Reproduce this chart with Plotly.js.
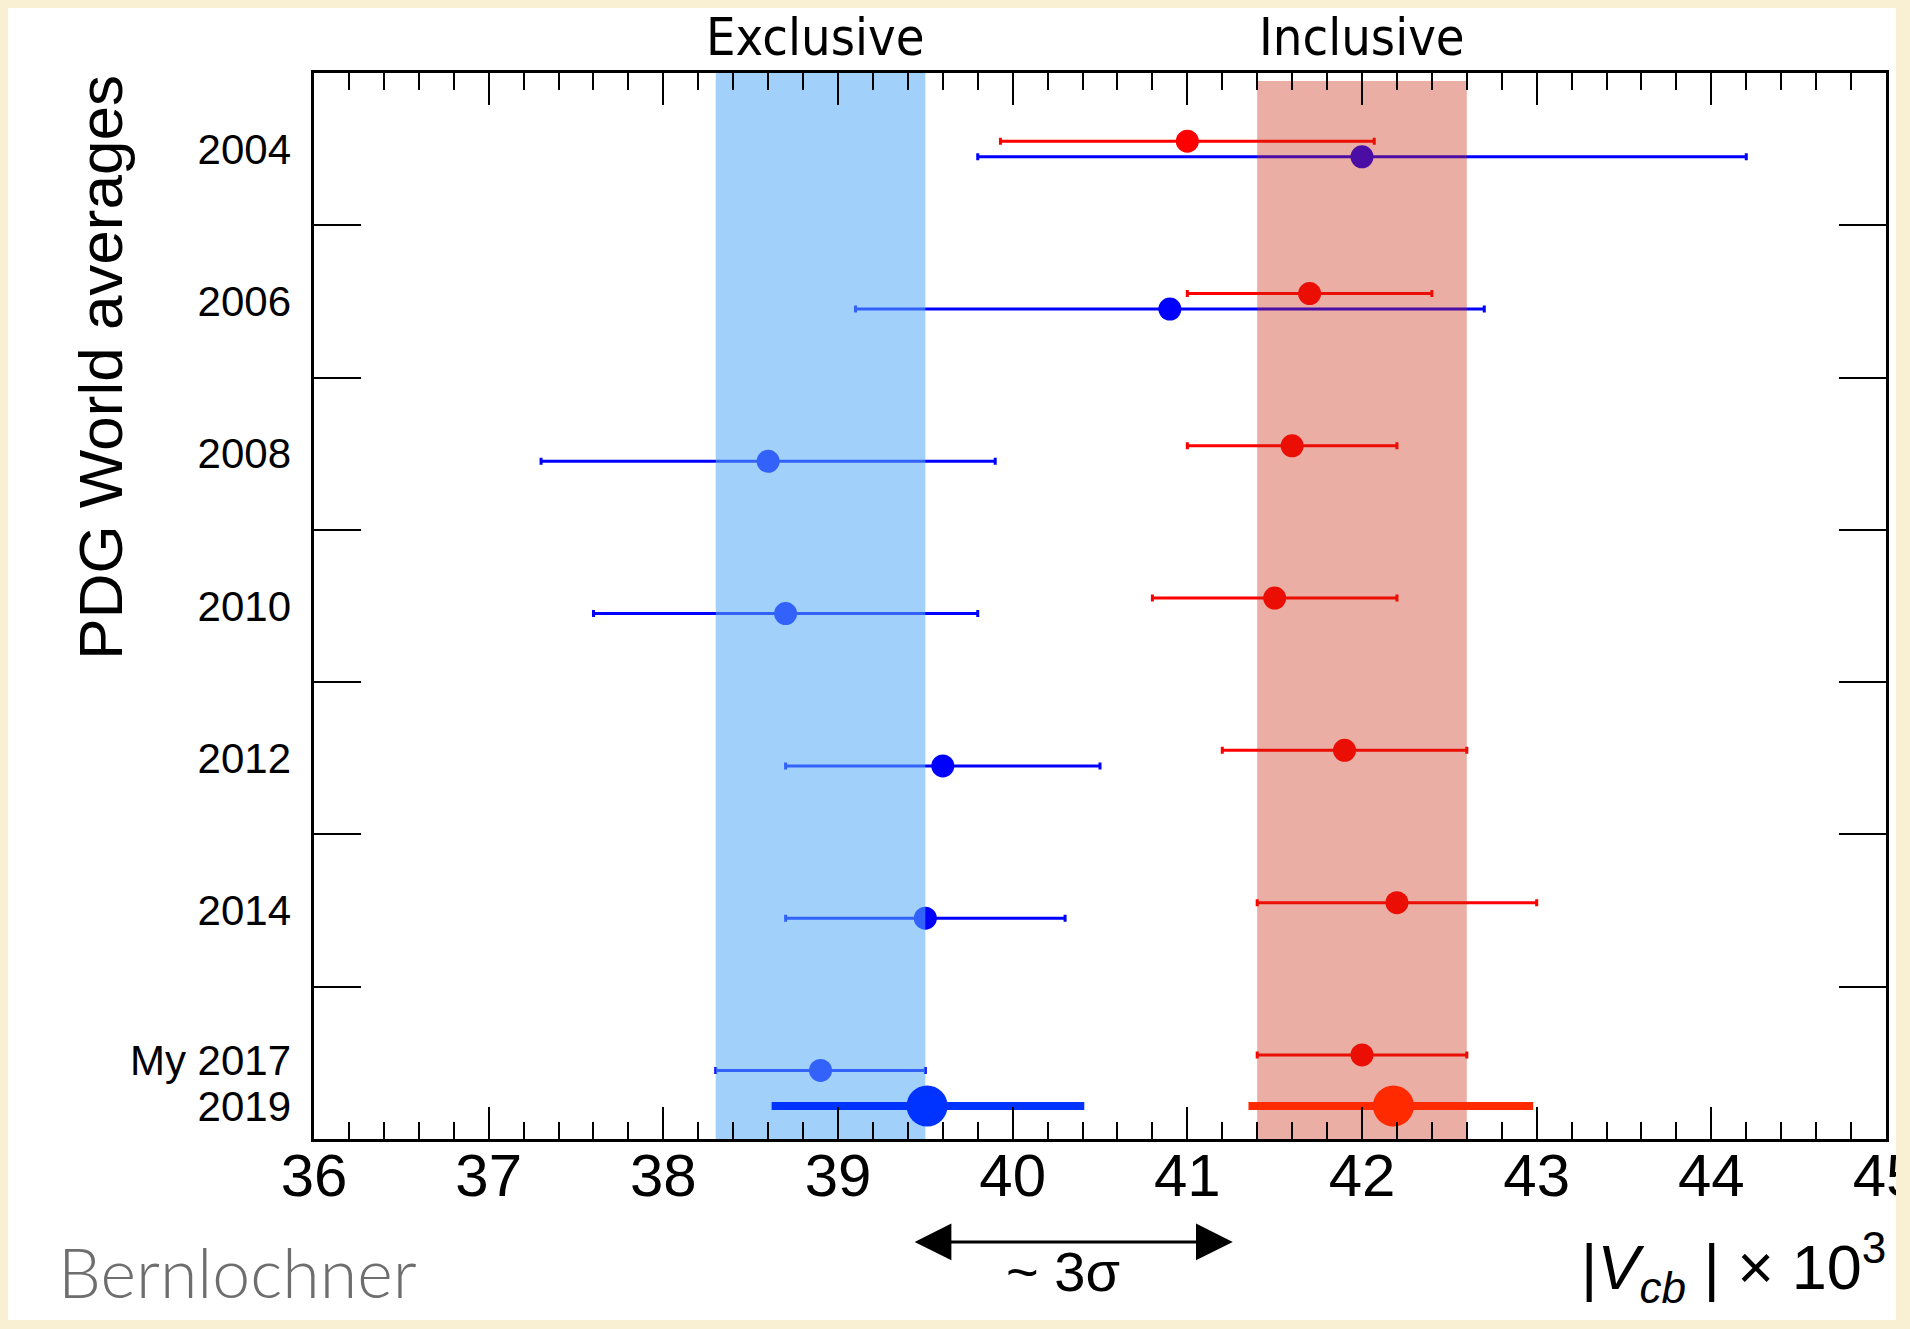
<!DOCTYPE html>
<html>
<head>
<meta charset="utf-8">
<script src="https://cdn.plot.ly/plotly-3.0.1.min.js"></script>
<style>
html,body{margin:0;padding:0;background:#f9f0d3;}
#wrap{position:relative;width:1910px;height:1329px;}
#chart{width:1910px;height:1329px;}
#frame{position:absolute;left:0;top:0;width:1910px;height:1329px;box-sizing:border-box;border-style:solid;border-color:#f9f0d3;border-width:8px 14px 9px 8px;pointer-events:none;}
</style>
</head>
<body>
<div id="wrap"><div id="chart"></div><div id="frame"></div></div>
<script>
// ---- data (|Vcb| x 10^3, PDG world averages) ----
const years = ['2004', '2006', '2008', '2010', '2012', '2014', 'My 2017'];
const inclusive = [41.0, 41.7, 41.6, 41.5, 41.9, 42.2, 42.0];
const inclusiveErr = [1.07, 0.7, 0.6, 0.7, 0.7, 0.8, 0.6];
const exclusive = [42.0, 40.9, 38.6, 38.7, 39.6, 39.5, 38.9];
const exclusiveErr = [2.2, 1.8, 1.3, 1.1, 0.9, 0.8, 0.6];
const latestYear = '2019';
const inclusive2019 = [42.18];
const inclusive2019ErrMinus = [0.83];
const inclusive2019ErrPlus = [0.80];
const exclusive2019 = [39.51];
const exclusive2019ErrMinus = [0.89];
const exclusive2019ErrPlus = [0.90];
const bandLabels = ['Exclusive', 'Inclusive'];
const tensionLabel = '~ 3σ';
const tensionArrow = [39.43, 41.26];

// ---- layout helpers ----
const nRows = years.length;
const rowCenter = i => nRows - i - 0.5;
const redOff = 0.052, blueOff = -0.05;
const redY = years.map((_, i) => rowCenter(i) + redOff);
const blueY = years.map((_, i) => rowCenter(i) + blueOff);
const y2019 = 0.217;

// bands from the "My 2017" averages
const last = nRows - 1;
const exLo = exclusive[last] - exclusiveErr[last], exHi = exclusive[last] + exclusiveErr[last];
const inLo = inclusive[last] - inclusiveErr[last], inHi = inclusive[last] + inclusiveErr[last];

const AR = 'Liberation Sans, Arial, Helvetica, sans-serif';
const DJ = 'DejaVu Sans Condensed, DejaVu Sans, sans-serif';

const labelVals = years.map((_, i) => i < last ? rowCenter(i) : 0.52).concat([y2019]);
const labelText = years.concat([latestYear]);

const traces = [
  {
    type: 'scatter', mode: 'markers', x: exclusive, y: blueY,
    marker: {color: '#0000ff', size: 23},
    error_x: {type: 'data', array: exclusiveErr, color: '#0000ff', thickness: 3, width: 3.5},
    hoverinfo: 'skip', showlegend: false
  },
  {
    type: 'scatter', mode: 'markers', x: inclusive, y: redY,
    marker: {color: '#ff0000', size: 23},
    error_x: {type: 'data', array: inclusiveErr, color: '#ff0000', thickness: 3, width: 3.5},
    hoverinfo: 'skip', showlegend: false
  },
  {
    type: 'scatter', mode: 'lines', x: [exLo, exHi, exHi, exLo, exLo], y: [-0.1, -0.1, 7, 7, -0.1],
    fill: 'toself', fillcolor: 'rgba(88,173,246,0.565)', line: {width: 0},
    hoverinfo: 'skip', showlegend: false
  },
  {
    type: 'scatter', mode: 'lines', x: [inLo, inHi, inHi, inLo, inLo], y: [-0.1, -0.1, 6.947, 6.947, -0.1],
    fill: 'toself', fillcolor: 'rgba(198,37,11,0.373)', line: {width: 0},
    hoverinfo: 'skip', showlegend: false
  },
  {
    type: 'scatter', mode: 'markers', x: exclusive2019, y: [y2019],
    marker: {color: '#0033ff', size: 41},
    error_x: {type: 'data', symmetric: false, array: exclusive2019ErrPlus, arrayminus: exclusive2019ErrMinus, color: '#0033ff', thickness: 8, width: 0},
    hoverinfo: 'skip', showlegend: false
  },
  {
    type: 'scatter', mode: 'markers', x: inclusive2019, y: [y2019],
    marker: {color: '#ff2a00', size: 41},
    error_x: {type: 'data', symmetric: false, array: inclusive2019ErrPlus, arrayminus: inclusive2019ErrMinus, color: '#ff2a00', thickness: 8, width: 0},
    hoverinfo: 'skip', showlegend: false
  },
  {
    // carrier for the row-label axis (invisible)
    type: 'scatter', mode: 'markers', x: [exclusive[0]], y: [rowCenter(0)], yaxis: 'y2',
    marker: {opacity: 0, size: 1}, hoverinfo: 'skip', showlegend: false
  }
];

const layout = {
  width: 1910, height: 1329,
  margin: {l: 314, r: 24, t: 73, b: 190, pad: 0},
  paper_bgcolor: '#ffffff', plot_bgcolor: '#ffffff',
  showlegend: false,
  xaxis: {
    range: [36, 45], tick0: 36, dtick: 1,
    ticks: 'inside', ticklen: 32, tickwidth: 2, tickcolor: '#000',
    minor: {dtick: 0.2, ticks: 'inside', ticklen: 17, tickwidth: 2, tickcolor: '#000', showgrid: false},
    showline: true, linecolor: '#000', linewidth: 3, mirror: 'ticks',
    showgrid: false, zeroline: false, automargin: false,
    ticklabeloverflow: 'allow', ticklabelstandoff: -18,
    tickfont: {family: AR, size: 60, color: '#000'}
  },
  yaxis: {
    range: [0, 7], tickvals: [1, 2, 3, 4, 5, 6],
    ticks: 'inside', ticklen: 47, tickwidth: 2, tickcolor: '#000',
    showticklabels: false,
    showline: true, linecolor: '#000', linewidth: 3, mirror: 'ticks',
    showgrid: false, zeroline: false, automargin: false
  },
  yaxis2: {
    overlaying: 'y', side: 'left', anchor: 'x', range: [0, 7],
    tickvals: labelVals, ticktext: labelText, ticks: '',
    showline: false, showgrid: false, zeroline: false, automargin: false,
    ticklabelstandoff: 22,
    tickfont: {family: AR, size: 42, color: '#000'}
  },
  annotations: [
    {text: 'PDG World averages', textangle: -90, xref: 'paper', yref: 'paper', x: -0.136, y: 1,
     xanchor: 'center', yanchor: 'top', showarrow: false, font: {family: AR, size: 62, color: '#000'}},
    {text: bandLabels[0], xref: 'x', yref: 'paper', x: (exLo + exHi) / 2, y: 1.034, xanchor: 'center', yanchor: 'middle',
     xshift: -5, showarrow: false, font: {family: DJ, size: 52, color: '#000'}},
    {text: bandLabels[1], xref: 'x', yref: 'paper', x: (inLo + inHi) / 2, y: 1.034, xanchor: 'center', yanchor: 'middle',
     showarrow: false, font: {family: DJ, size: 52, color: '#000'}},
    {text: '', xref: 'x', yref: 'paper', axref: 'x', ayref: 'pixel', x: tensionArrow[1], ax: tensionArrow[0], y: -0.0966, ay: 0,
     showarrow: true, arrowside: 'end+start', arrowhead: 2, startarrowhead: 2, arrowsize: 2.45, startarrowsize: 2.45,
     arrowwidth: 3, arrowcolor: '#000', standoff: 0, startstandoff: 0},
    {text: tensionLabel, xref: 'x', yref: 'paper', x: (tensionArrow[0] + tensionArrow[1]) / 2, y: -0.1247, xanchor: 'center', yanchor: 'middle',
     xshift: -10, showarrow: false, font: {family: AR, size: 56, color: '#000'}},
    {text: '|<i>V</i><sub><i>cb</i></sub> | × 10<sup>3</sup>', xref: 'paper', yref: 'paper', x: 1, y: -0.121,
     xanchor: 'right', yanchor: 'middle', xshift: 2, showarrow: false, font: {family: AR, size: 63, color: '#000'}},
    {text: 'Bernlochner', xref: 'paper', yref: 'paper', x: -0.161, y: -0.1239, xanchor: 'left', yanchor: 'middle',
     xshift: -5, showarrow: false, font: {family: 'Lato, sans-serif', size: 68, weight: 300, color: '#6e6e6e'}}
  ]
};

Plotly.newPlot('chart', traces, layout, {staticPlot: true, displayModeBar: false});
</script>
</body>
</html>
